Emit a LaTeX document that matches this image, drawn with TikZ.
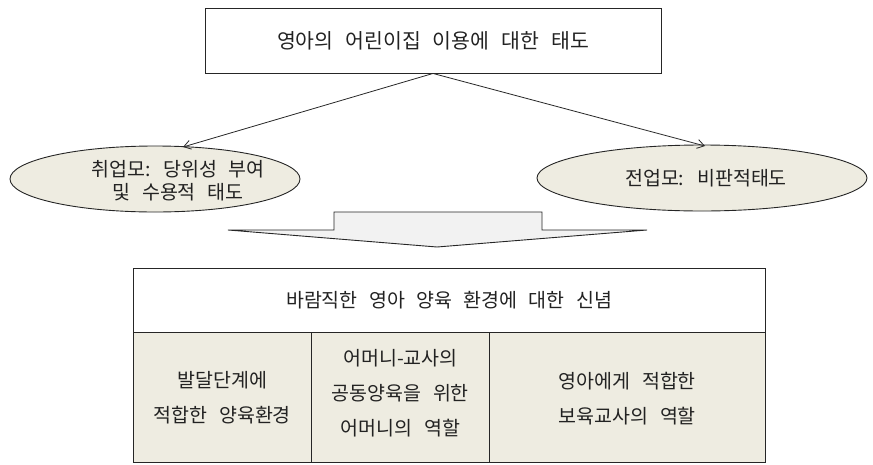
\documentclass[tikz,border=0pt]{standalone}
\usepackage{fontspec}
\newfontfamily\kr[WordSpace=2.6]{Noto Sans CJK KR}
\usetikzlibrary{shapes.geometric,arrows.meta}
\definecolor{beige}{HTML}{EEECE1}
\definecolor{arrowgray}{HTML}{F2F2F2}
\definecolor{ink}{HTML}{222222}
\tikzset{
  boxline/.style={draw=black!85, line width=0.9pt},
  txt/.style={text=ink, font=\kr\fontsize{19.5}{23}\selectfont, align=center, inner sep=0pt},
  celltxt/.style={text=ink, font=\kr\fontsize{19.5}{35}\selectfont, align=center, inner sep=0pt},
  ell/.style={ellipse, boxline, fill=beige, inner sep=0pt},
  conn/.style={draw=black!85, line width=0.8pt, -{Straight Barb[length=7pt,width=9pt]}},
}
\begin{document}
\begin{tikzpicture}[x=1pt,y=-1pt]
\useasboundingbox (0,0) rectangle (873,464);
% top box
\node[boxline, rectangle, minimum width=456pt, minimum height=65pt, txt, font=\kr\fontsize{20.5}{23}\selectfont] (top) at (433,40.5) {영아의 어린이집 이용에 대한 태도};
% ellipses
\node[ell, minimum width=290pt, minimum height=66pt] (lell) at (155,179) {};
\node[txt] (ltxt) at (178,181) {취업모: 당위성 부여\\ 및 수용적 태도};
\node[ell, minimum width=330pt, minimum height=66pt] (rell) at (702,178) {};
\node[txt] (rtxt) at (706,178) {전업모: 비판적태도};
\coordinate (la) at (183,147);
\coordinate (ra) at (705,146);
\draw[conn] (top.south) -- (la);
\draw[conn] (top.south) -- (ra);
% block arrow
\draw[boxline, fill=arrowgray, line join=miter] (228,230) -- (334,230) -- (334,212) -- (542,212) -- (542,230) -- (647,230) -- (437,247) -- cycle;
% table
\node[boxline, rectangle, fill=white, minimum width=632pt, minimum height=64pt, anchor=north west] (head) at (133,268) {};
\node[celltxt] (headtxt) at (449,300) {바람직한 영아 양육 환경에 대한 신념};
\node[boxline, rectangle, fill=beige, minimum width=178pt, minimum height=130pt, anchor=north west] (c1) at (133,332) {};
\node[boxline, rectangle, fill=beige, minimum width=178pt, minimum height=130pt, anchor=north west] (c2) at (311,332) {};
\node[boxline, rectangle, fill=beige, minimum width=276pt, minimum height=130pt, anchor=north west] (c3) at (489,332) {};
\node[celltxt] (t1) at (c1.center) {발달단계에\\ 적합한 양육환경};
\node[celltxt] (t2) at ([yshift=4pt]c2.center) {어머니-교사의\\ 공동양육을 위한\\ 어머니의 역할};
\node[celltxt] (t3) at ([yshift=-1pt]c3.center) {영아에게 적합한\\ 보육교사의 역할};
\end{tikzpicture}
\end{document}
